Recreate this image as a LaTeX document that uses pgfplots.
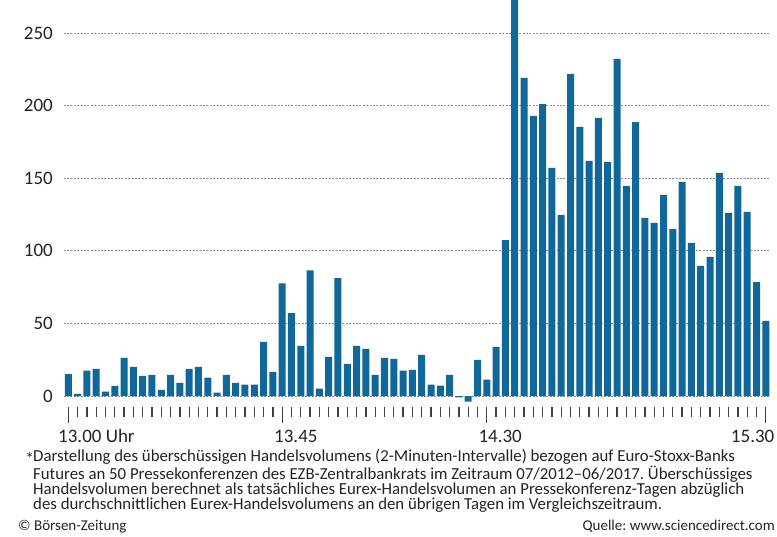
\documentclass[border=0pt]{standalone}
\usepackage{fontspec}
\setmainfont{Carlito}
\usepackage{pgfplots}
\pgfplotsset{compat=1.18}
\definecolor{barblue}{RGB}{16,104,154}
\definecolor{txt}{RGB}{35,35,35}
\pgfplotstableread{
idx val
0 15
1 1.5
2 17.4
3 18.7
4 3
5 7
6 26.3
7 20.1
8 13.9
9 14.6
10 4.3
11 14.6
12 9.1
13 18.7
14 20.1
15 12.6
16 2.3
17 14.6
18 9.1
19 7.8
20 7.8
21 37.2
22 16.7
23 77.6
24 57.1
25 34.5
26 86.5
27 5.0
28 26.9
29 81.1
30 22.1
31 34.5
32 32.4
33 14.6
34 26.3
35 25.6
36 17.4
37 18.0
38 28.3
39 7.8
40 7.1
41 14.6
42 -1
43 -3.9
44 24.9
45 11.2
46 33.8
47 107.3
48 285
49 219.1
50 192.9
51 201.1
52 157.1
53 124.7
54 221.8
55 185.3
56 161.9
57 191.5
58 161.2
59 232.1
60 144.7
61 188.7
62 122.6
63 119.2
64 138.5
65 115.0
66 147.4
67 105.4
68 89.6
69 95.8
70 153.6
71 126.1
72 144.7
73 126.8
74 78.5
75 51.7
}\datatable
\begin{document}
\frenchspacing
\begin{tikzpicture}[x=1pt,y=1pt]
\path[use as bounding box] (0,0) rectangle (777,-536);
\begin{axis}[
  at={(68.3pt,-396pt)}, anchor=origin,
  x=9.3pt, y=1.452pt,
  ybar, bar width=7pt,
  xmin=-0.5, xmax=75.5, ymin=-7.5, ymax=272.7,
  enlargelimits=false,
  axis line style={draw=none},
  /pgf/number format/assume math mode=true,
  ytick={0,50,...,250},
  ymajorgrids,
  grid style={black!45, dash pattern=on 2pt off 1.4pt, line width=0.9pt},
  ytick style={draw=none},
  ytick align=inside,
  ytick pos=left,
  yticklabel style={font=\fontsize{19}{19}\selectfont, text=txt, anchor=east, inner xsep=0pt, xshift=-10.6pt},
  xtick={0,...,75},
  xticklabels={},
  xtick pos=bottom,
  xtick align=outside,
  major tick length=10pt,
  xtick style={draw=black!75, line width=1.3pt},
  extra x ticks={0,23,45,75},
  extra x tick labels={},
  extra x tick style={major tick length=16.6pt, xtick style={draw=black!75, line width=1.3pt}},
]
\addplot[fill=barblue, draw=none] table[x=idx, y=val] {\datatable};
\end{axis}
\begin{scope}[every node/.style={inner sep=0pt, text=txt}]
\node[anchor=base west, font=\fontsize{19}{19}\selectfont] at (58,-442.7) {13.00 Uhr};
\node[anchor=base west, font=\fontsize{19}{19}\selectfont] at (274,-442.7) {13.45};
\node[anchor=base west, font=\fontsize{19}{19}\selectfont] at (478.3,-442.7) {14.30};
\node[anchor=base east, font=\fontsize{19}{19}\selectfont] at (774.5,-442.7) {15.30};
\node[anchor=base west, font=\fontsize{16.8}{15}\selectfont, align=left] at (25.5,-509) {*\\\phantom{*}\\\phantom{*}\\\phantom{*}};
\node[anchor=base west, font=\fontsize{16.8}{15}\selectfont, align=left] at (33,-509) {Darstellung des überschüssigen Handelsvolumens (2-Minuten-Intervalle) bezogen auf Euro-Stoxx-Banks\\
Futures an 50 Pressekonferenzen des EZB-Zentralbankrats im Zeitraum 07/2012--06/2017. Überschüssiges\\
Handelsvolumen berechnet als tatsächliches Eurex-Handelsvolumen an Pressekonferenz-Tagen abzüglich\\
des durchschnittlichen Eurex-Handelsvolumens an den übrigen Tagen im Vergleichszeitraum.};
\node[anchor=base west, font=\fontsize{15}{15}\selectfont] at (18,-530) {© Börsen-Zeitung};
\node[anchor=base east, font=\fontsize{15}{15}\selectfont] at (775,-530) {Quelle: www.sciencedirect.com};
\end{scope}
\end{tikzpicture}
\end{document}
